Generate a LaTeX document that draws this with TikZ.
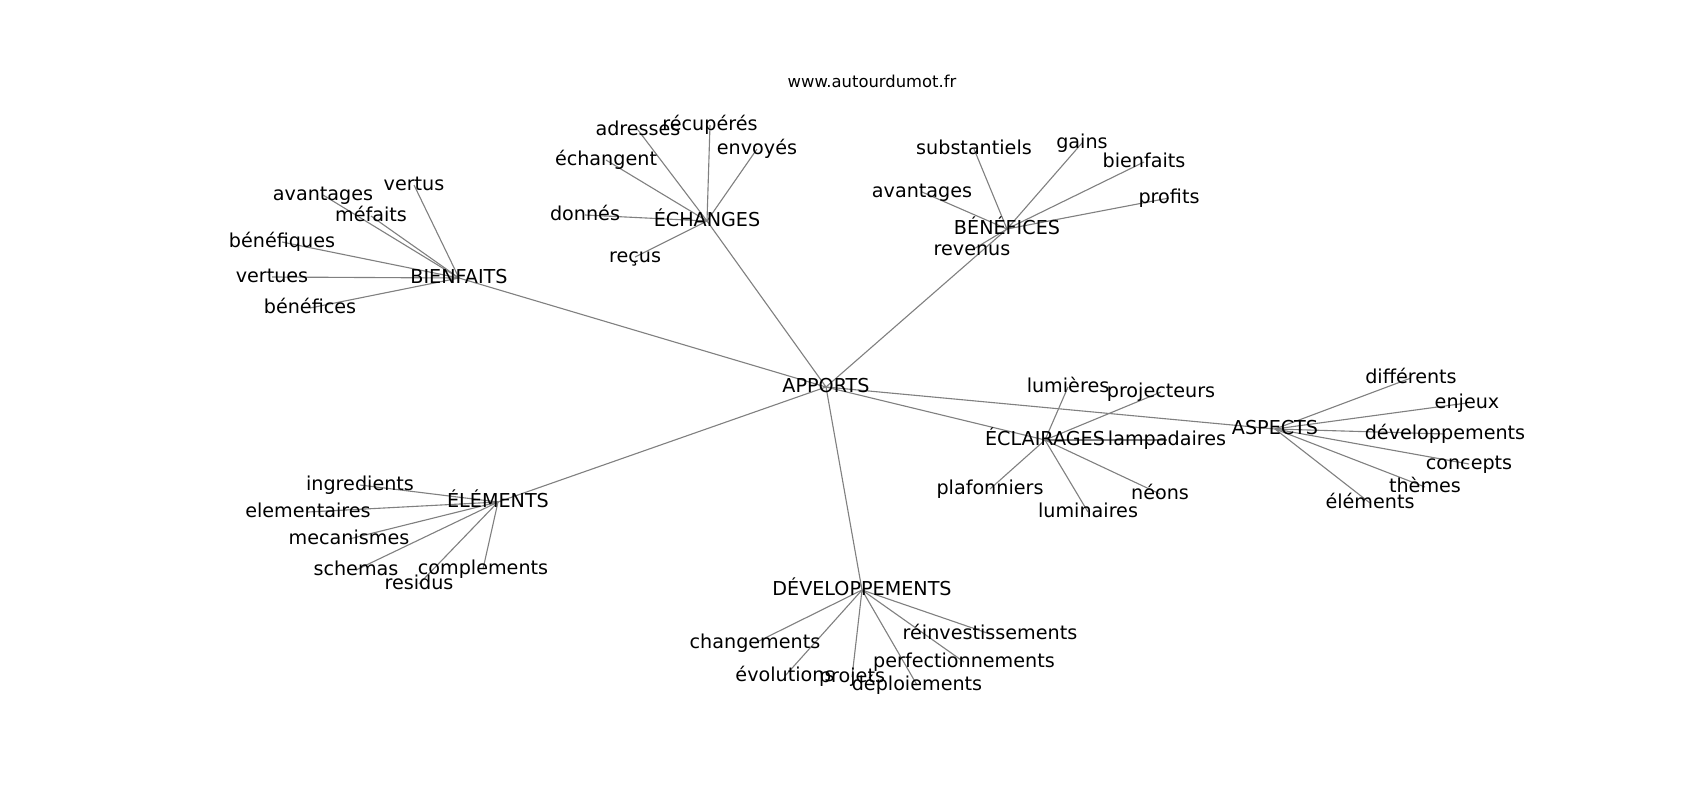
\documentclass[tikz,border=0pt]{standalone}
\usepackage{fontspec}
\setmainfont{DejaVu Sans}
\usepackage{tikz}
\usetikzlibrary{backgrounds}
\tikzstyle{word}=[inner sep=0pt, font=\fontsize{13.8}{16}\selectfont, text height=10.5pt, text depth=3.3pt]
\tikzstyle{link}=[draw=black!50, line width=0.8pt]

\begin{document}
\begin{tikzpicture}[x=0.72pt, y=-0.72pt]
                    \useasboundingbox (0,0) rectangle (1700,800);
                    \node[anchor=base, font=\fontsize{11.8}{14}\selectfont] (title) at (872,87) {www.autourdumot.fr};
                    \node[word] (0) at (826,387) {APPORTS};
                    % hubs
                    \node[word] (1) at (459,278) {BIENFAITS};
                    \node[word] (2) at (707,221) {ÉCHANGES};
                    \node[word] (3) at (1007,229) {BÉNÉFICES};
                    \node[word] (4) at (1045,440) {ÉCLAIRAGES};
                    \node[word] (5) at (1275,429) {ASPECTS};
                    \node[word] (6) at (498,502) {ÉLÉMENTS};
                    \node[word] (7) at (862,590) {DÉVELOPPEMENTS};
                    % leaves
                    \node[word] (11) at (414,185) {vertus};
                    \node[word] (12) at (323,195) {avantages};
                    \node[word] (13) at (371,216) {méfaits};
                    \node[word] (14) at (282,242) {bénéfiques};
                    \node[word] (15) at (272,277) {vertues};
                    \node[word] (16) at (310,308) {bénéfices};
                    \node[word] (21) at (638,130) {adresses};
                    \node[word] (22) at (710,125) {récupérés};
                    \node[word] (23) at (757,149) {envoyés};
                    \node[word] (24) at (606,160) {échangent};
                    \node[word] (25) at (585,215) {donnés};
                    \node[word] (26) at (635,257) {reçus};
                    \node[word] (31) at (974,149) {substantiels};
                    \node[word] (32) at (1082,143) {gains};
                    \node[word] (33) at (1144,162) {bienfaits};
                    \node[word] (34) at (1169,198) {profits};
                    \node[word] (35) at (922,192) {avantages};
                    \node[word] (36) at (972,250) {revenus};
                    \node[word] (41) at (1068,387) {lumières};
                    \node[word] (42) at (1161,392) {projecteurs};
                    \node[word] (43) at (1167,440) {lampadaires};
                    \node[word] (44) at (990,489) {plafonniers};
                    \node[word] (45) at (1088,512) {luminaires};
                    \node[word] (46) at (1160,494) {néons};
                    \node[word] (51) at (1411,378) {différents};
                    \node[word] (52) at (1467,403) {enjeux};
                    \node[word] (53) at (1445,434) {développements};
                    \node[word] (54) at (1469,464) {concepts};
                    \node[word] (55) at (1425,487) {thèmes};
                    \node[word] (56) at (1370,503) {éléments};
                    \node[word] (61) at (360,485) {ingredients};
                    \node[word] (62) at (308,512) {elementaires};
                    \node[word] (63) at (349,539) {mecanismes};
                    \node[word] (64) at (356,570) {schemas};
                    \node[word] (65) at (419,584) {residus};
                    \node[word] (66) at (483,569) {complements};
                    \node[word] (71) at (755,643) {changements};
                    \node[word] (72) at (785,676) {évolutions};
                    \node[word] (73) at (852,677) {projets};
                    \node[word] (74) at (917,685) {déploiements};
                    \node[word] (75) at (964,662) {perfectionnements};
                    \node[word] (76) at (990,634) {réinvestissements};
                    \begin{scope}[on background layer]
                        \foreach \h in {1,...,7} {
                            \draw[link] (0.center)--(\h.center);
                            \foreach \l in {1,...,6}
                                \draw[link] (\h.center)--(\h\l.center);
                        }
                    \end{scope}
                \end{tikzpicture}
\end{document}
